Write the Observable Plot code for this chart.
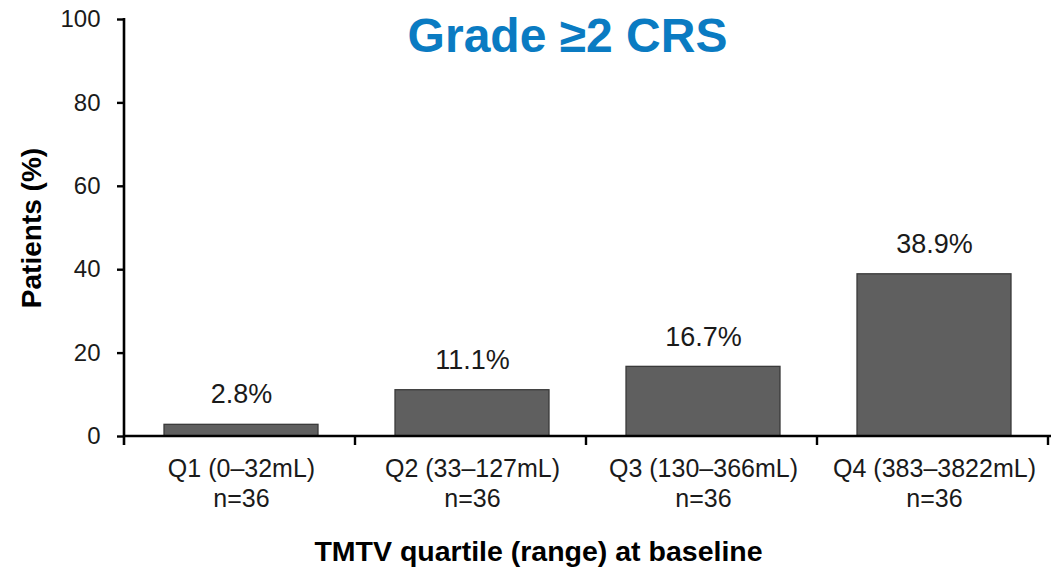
<!DOCTYPE html>
<html>
<head>
<meta charset="utf-8">
<script src="https://cdn.jsdelivr.net/npm/d3@7"></script>
<script src="https://cdn.jsdelivr.net/npm/@observablehq/plot@0.6"></script>
<style>
  html, body { margin: 0; padding: 0; background: #fff; }
  #chart { width: 1056px; height: 569px; }
  svg { font-family: "Liberation Sans", Arial, sans-serif; }
</style>
</head>
<body>
<div id="chart"></div>
<script>
const categories = ["Q1 (0–32mL)", "Q2 (33–127mL)", "Q3 (130–366mL)", "Q4 (383–3822mL)"];
const counts = ["n=36", "n=36", "n=36", "n=36"];
const values = [2.8, 11.1, 16.7, 38.9];
const valueLabels = ["2.8%", "11.1%", "16.7%", "38.9%"];
const yTicks = [0, 20, 40, 60, 80, 100];
const titleText = "Grade ≥2 CRS";
const xTitle = "TMTV quartile (range) at baseline";
const yTitle = "Patients (%)";

const data = categories.map((c, i) => ({cat: c, n: counts[i], value: values[i], label: valueLabels[i]}));
const tickText = new Map(categories.map((c, i) => [c, c + "\n" + counts[i]]));

// axis lines and category boundary ticks
function frameLines(index, scales, channels, dims) {
  const g = d3.create("svg:g");
  const x0 = dims.marginLeft;
  const x1 = dims.width - dims.marginRight;
  const yb = scales.y(0);
  const yt = scales.y(100);
  const step = scales.x(categories[1]) - scales.x(categories[0]);
  g.append("line").attr("x1", x0).attr("x2", x0).attr("y1", yt - 1).attr("y2", yb + 9)
    .attr("stroke", "#000").attr("stroke-width", 2.6);
  g.append("line").attr("x1", x0).attr("x2", x1 + 1).attr("y1", yb).attr("y2", yb)
    .attr("stroke", "#000").attr("stroke-width", 2.6);
  for (let k = 1; k <= categories.length; k++) {
    const bx = x0 + k * step;
    g.append("line").attr("x1", bx).attr("x2", bx).attr("y1", yb).attr("y2", yb + 9)
      .attr("stroke", "#000").attr("stroke-width", 2.4);
  }
  return g.node();
}

const chart = Plot.plot({
  width: 1056,
  height: 569,
  marginLeft: 124,
  marginRight: 6,
  marginTop: 19,
  marginBottom: 133,
  style: {fontFamily: "'Liberation Sans', Arial, sans-serif", fontSize: "24px", color: "#1a1a1a", background: "#fff"},
  x: {domain: categories, paddingInner: 0.335, paddingOuter: 0.1675, label: null},
  y: {domain: [0, 100], ticks: yTicks, label: null},
  marks: [
    Plot.barY(data, {x: "cat", y: "value", fill: "#5f5f5f", stroke: "#3a3a3a", strokeWidth: 1.3}),
    Plot.axisY({ticks: yTicks, tickSize: 7, tickPadding: 17, fontSize: 24, strokeWidth: 2.4, stroke: "#000", fill: "#1a1a1a", label: null}),
    Plot.axisX({tickSize: 0, tickPadding: 20, fontSize: 25, lineHeight: 1.17, fill: "#1a1a1a", tickFormat: d => tickText.get(d), label: null}),
    Plot.text(data, {x: "cat", y: "value", text: "label", fontSize: 27, fill: "#1a1a1a", lineAnchor: "middle", dy: -30}),
    frameLines,
    Plot.text([titleText], {frameAnchor: "top", text: d => d, fontSize: 48, fontWeight: "bold", fill: "#0a7bc2", lineAnchor: "middle", dx: -20, dy: 17.6}),
    Plot.text([xTitle], {frameAnchor: "bottom", text: d => d, fontSize: 28.5, fontWeight: "bold", fill: "#000", textAnchor: "middle", lineAnchor: "middle", dx: -49, dy: 115}),
    Plot.text([yTitle], {frameAnchor: "left", text: d => d, fontSize: 28, fontWeight: "bold", fill: "#000", rotate: -90, textAnchor: "middle", lineAnchor: "middle", dx: -92})
  ]
});
document.getElementById("chart").appendChild(chart);
</script>
</body>
</html>
